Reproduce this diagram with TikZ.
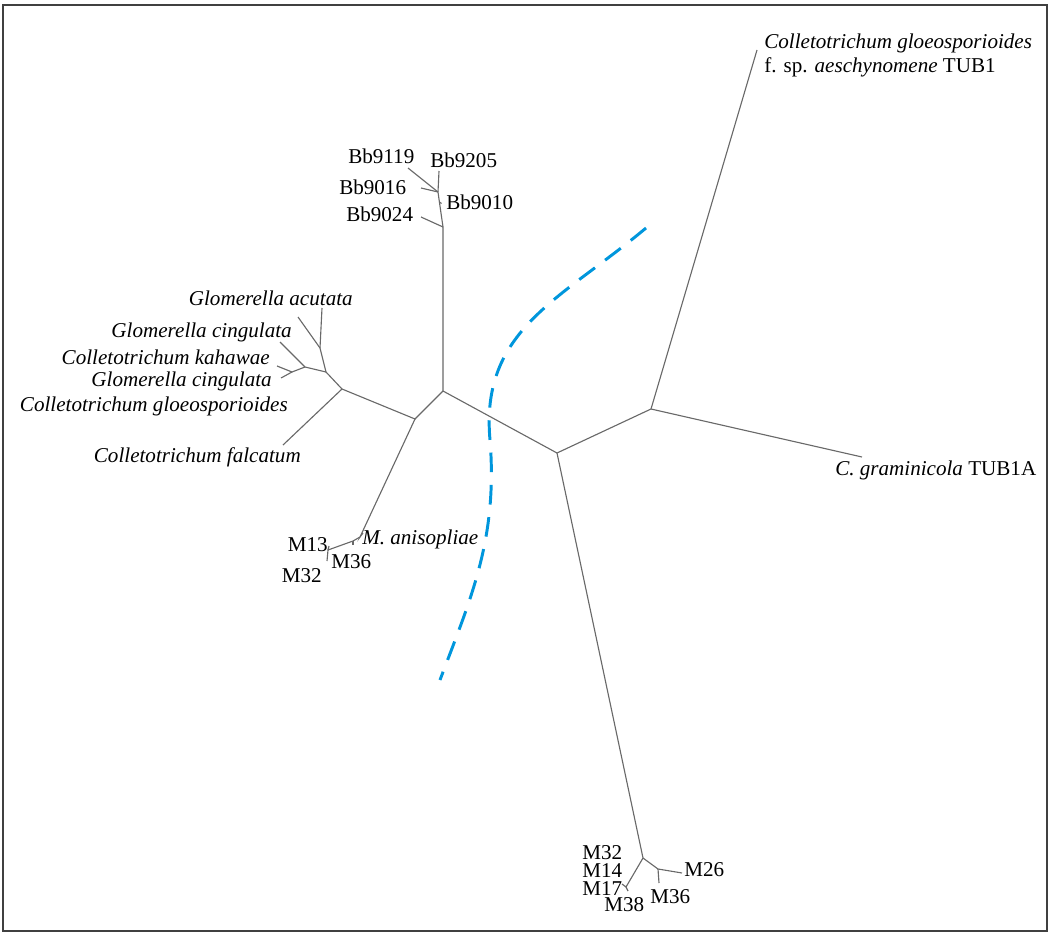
\documentclass[tikz,border=0pt]{standalone}
\usepackage{fontspec}
\setmainfont{Liberation Serif}
\usepackage{xcolor}
\definecolor{branch}{RGB}{105,105,105}
\definecolor{cutline}{RGB}{0,150,220}
\usetikzlibrary{positioning}

\begin{document}
\begin{tikzpicture}[x=0.025cm,y=-0.025cm,
	br/.style={draw=branch,line width=0.8pt},
	lab/.style={inner sep=0pt,font=\fontsize{15}{17}\selectfont},
	cut/.style={draw=cutline,line width=2.1pt,dash pattern=on 14pt off 9pt}]
	% frame
	\useasboundingbox (0,0) rectangle (1051,933);
	\draw[line width=0.8pt,black!75] (3,5) rectangle (1047,931);
	
	% inner nodes
	\coordinate (a) at (443,391);
	\coordinate (b) at (415,419);
	\coordinate (c) at (557,453);
	\coordinate (d) at (342,389);
	\coordinate (f) at (326,372);
	\coordinate (g) at (320,348);
	\coordinate (i) at (305,367);
	\coordinate (h) at (292,372);
	\coordinate (e) at (360,537);
	\coordinate (k) at (328,550);
	\coordinate (j) at (651,409);
	\coordinate (l) at (643,858);
	\coordinate (n) at (658,869);
	\coordinate (m) at (626,887);
	\coordinate (bb1) at (443,227);
	\coordinate (bb2) at (438,192);
	\coordinate (bb3) at (439.4,202);
	\coordinate (mm) at (353,541);
	
	% leaves
	\coordinate (tgl) at (757,50);
	\coordinate (tgr) at (862,457);
	\coordinate (lBb9205) at (439,171);
	\coordinate (lBb9119) at (408,168);
	\coordinate (lBb9016) at (421,188);
	\coordinate (lBb9010) at (441.5,203.5);
	\coordinate (lBb9024) at (421,217);
	\coordinate (lacu) at (322,308);
	\coordinate (lcin) at (298,317);
	\coordinate (lkah) at (280,342);
	\coordinate (lcinb) at (277,366);
	\coordinate (lglo) at (281,378);
	\coordinate (lfal) at (283,445);
	\coordinate (lani) at (363,533);
	\coordinate (lMa) at (353,545);
	\coordinate (lMb) at (327,561);
	\coordinate (lMc) at (329,546);
	\coordinate (lM17) at (622,884);
	\coordinate (lM38) at (628,891);
	\coordinate (lM26) at (682,873);
	\coordinate (lM36) at (659,883);
	
	% draw branches
	\draw[br] (a) -- (bb1) -- (bb3) -- (bb2) -- (lBb9205);
	\draw[br] (bb2) -- (lBb9119);
	\draw[br] (bb2) -- (lBb9016);
	\draw[br] (bb3) -- (lBb9010);
	\draw[br] (bb1) -- (lBb9024);
	
	\draw[br] (a) -- (b) -- (d) -- (f) -- (g) -- (lacu);
	\draw[br] (g) -- (lcin);
	\draw[br] (f) -- (i) -- (lkah);
	\draw[br] (i) -- (h) -- (lcinb);
	\draw[br] (h) -- (lglo);
	\draw[br] (d) -- (lfal);
	
	\draw[br] (b) -- (e) -- (lani);
	\draw[br] (e) -- (mm) -- (k) -- (lMb);
	\draw[br] (mm) -- (lMa);
	\draw[br] (k) -- (lMc);
	
	\draw[br] (a) -- (c) -- (j) -- (tgl);
	\draw[br] (j) -- (tgr);
	\draw[br] (c) -- (l) -- (m) -- (lM17);
	\draw[br] (m) -- (lM38);
	\draw[br] (l) -- (n) -- (lM26);
	\draw[br] (n) -- (lM36);
	
	% labels
	\node[lab,anchor=north west,align=left] (tcga) at (764,34)
	{\textit{Colletotrichum gloeosporioides}\\f. sp. \textit{aeschynomene} TUB1};
	\node[lab,anchor=west] (tcgr) at (835,470) {\textit{C. graminicola} TUB1A};
	
	\node[lab,anchor=west] (tBb9119) at (348,156) {Bb9119};
	\node[lab,anchor=west] (tBb9205) at (430,160) {Bb9205};
	\node[lab,anchor=west] (tBb9016) at (339,187) {Bb9016};
	\node[lab,anchor=west] (tBb9010) at (446,202) {Bb9010};
	\node[lab,anchor=west] (tBb9024) at (346,214) {Bb9024};
	
	\node[lab,anchor=east] (tacu) at (353,298) {\textit{Glomerella acutata}};
	\node[lab,anchor=east] (tcin) at (292,332) {\textit{Glomerella cingulata}};
	\node[lab,anchor=east] (tkah) at (270,357) {\textit{Colletotrichum kahawae}};
	\node[lab,anchor=east] (tcinb) at (272,381) {\textit{Glomerella cingulata}};
	\node[lab,anchor=east] (tglo) at (288,406) {\textit{Colletotrichum gloeosporioides}};
	\node[lab,anchor=east] (tfal) at (301,457) {\textit{Colletotrichum falcatum}};
	
	\node[lab,anchor=west] (tani) at (362,539) {\textit{M. anisopliae}};
	\node[lab,anchor=east] (tM13) at (328,545) {M13};
	\node[lab,anchor=west] (tM36) at (331,562) {M36};
	\node[lab,anchor=east] (tM32) at (322,576) {M32};
	
	\node[lab,anchor=north west,align=left,font=\fontsize{15}{12.8}\selectfont]
	(bMstack) at (582,845) {M32\\M14\\M17};
	\node[lab,anchor=west] (bM38) at (604,905) {M38};
	\node[lab,anchor=west] (bM36) at (650,897) {M36};
	\node[lab,anchor=west] (bM26) at (684,870) {M26};
	
	% dashed separation line
	\coordinate (cut1) at (646,228);
	\coordinate (cut2) at (490,440);
	\coordinate (cut3) at (440,680);
	\draw[cut] (cut1) .. controls (560,300) and (480,330) .. (cut2)
	.. controls (498,540) and (470,600) .. (cut3);
\end{tikzpicture}
\end{document}
